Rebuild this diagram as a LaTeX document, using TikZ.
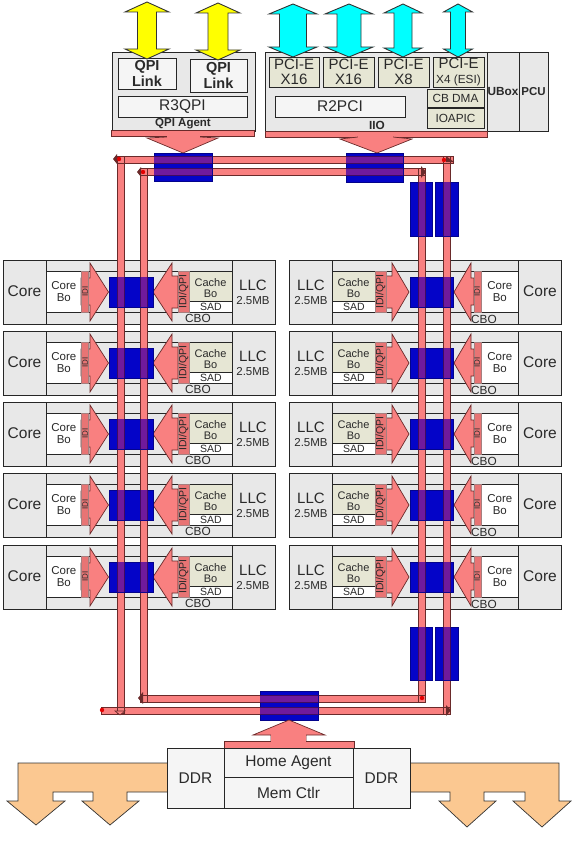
\documentclass[tikz,border=0pt]{standalone}
\usepackage{fontspec}
\setmainfont{Liberation Sans}
\definecolor{pinkf}{HTML}{F98080}
\definecolor{pinkd}{HTML}{E87474}
\definecolor{edge}{HTML}{6A2A2A}
\definecolor{blockg}{HTML}{E8E8E8}
\definecolor{beige}{HTML}{E6E6D4}
\definecolor{bluef}{HTML}{0404C8}
\definecolor{purplef}{HTML}{701A9C}
\definecolor{purpled}{HTML}{400A60}
\definecolor{orangef}{HTML}{FBC891}
\definecolor{yellowf}{HTML}{FFFF00}
\definecolor{cyanf}{HTML}{00FFFF}
\definecolor{txt}{HTML}{2A2A2A}
\newcommand{\fs}[2]{\fontsize{#1}{#2}\selectfont}
\newcommand{\bx}[7][]{\node[boxn,#1,minimum width=#4pt-#2pt,minimum height=#5pt-#3pt] (#6) at ({(#2+#4)/2},{(#3+#5)/2}) {#7};}
\newcommand{\ringpath}{
  (117,156) rectangle (453,163)
  (140,168) rectangle (425,175)
  (117,156) rectangle (124,713)
  (140,168) rectangle (147,702)
  (418,168) rectangle (425,702)
  (443,156) rectangle (450,714)
  (140,695) rectangle (425,702)
  (101,707) rectangle (450,714)
}
\newcommand{\dblarrow}[7]{% cx, top, bottom, head half, shaft half, head h, colour
  \draw[line width=.9pt,draw=black!80,fill=#7]
    (#1,#2) -- ({#1+#4},{#2+#6}) -- ({#1+#5},{#2+#6}) -- ({#1+#5},{#3-#6}) -- ({#1+#4},{#3-#6})
    -- (#1,#3) -- ({#1-#4},{#3-#6}) -- ({#1-#5},{#3-#6}) -- ({#1-#5},{#2+#6}) -- ({#1-#4},{#2+#6}) -- cycle;}
\tikzset{
  boxn/.style={draw=black!85,line width=.7pt,inner sep=0pt,align=center,text=txt,font=\fs{11.8}{13}},
  softbox/.style={fill=white!96!black},
  whitebox/.style={fill=white},
  greybox/.style={fill=blockg},
  beigebox/.style={fill=beige},
  bluebox/.style={fill=bluef,draw=bluef!70!black,line width=.4pt,inner sep=0pt},
  pinka/.style={fill=pinkf,draw=edge,line width=.7pt},
  stripn/.style={fill=pinkd,inner sep=0pt,draw=edge!60,line width=.3pt},
  lab/.style={text=txt,inner sep=0pt,align=center},
}
\begin{document}
\begin{tikzpicture}[x=1pt,y=-1pt]
\useasboundingbox (0,0) rectangle (579,864);
% --- top blocks
\bx[greybox]{112}{52}{255}{131}{qpiagent}{}
\bx[softbox,font=\fs{14.5}{16}\bfseries]{118}{58}{176}{89}{qpi1}{QPI\\Link}
\bx[softbox,font=\fs{14.5}{16}\bfseries]{190}{59}{247}{92}{qpi2}{QPI\\Link}
\bx[softbox,font=\fs{15.5}{17}]{118}{96}{247}{117}{r3qpi}{R3QPI}
\node[lab,font=\fs{11.5}{13}\bfseries] (qpilab) at (183,124) {QPI Agent};
\bx[greybox]{265}{52}{487}{131}{iio}{}
\bx[greybox,font=\fs{11.8}{13}\bfseries]{487}{52}{519}{131}{ubox}{UBox}
\bx[greybox,font=\fs{11.5}{13}\bfseries]{519}{52}{548}{131}{pcu}{PCU}
\bx[beigebox,font=\fs{15}{15.5}]{269}{57}{319}{87}{p1}{PCI-E\\X16}
\bx[beigebox,font=\fs{15}{15.5}]{323}{57}{374}{87}{p2}{PCI-E\\X16}
\bx[beigebox,font=\fs{15}{15.5}]{378}{57}{429}{87}{p3}{PCI-E\\X8}
\bx[beigebox,font=\fs{15}{15.5}]{433}{57}{484}{87}{p4}{PCI-E\\{\fs{11.8}{13}X4 (ESI)}}
\bx[beigebox,line width=.9pt]{427}{89}{484}{107}{cbdma}{CB DMA}
\bx[beigebox,line width=.9pt]{427}{108}{484}{128}{ioapic}{IOAPIC}
\bx[softbox,font=\fs{15.5}{17}]{275}{96}{405}{117}{r2pci}{R2PCI}
\node[lab,font=\fs{11.8}{13}\bfseries] (iiolab) at (377,125) {IIO};
% pink bars and arrows
\fill[pinkf,draw=edge,line width=.5pt] (111,130) rectangle (254,136);
\fill[pinkf,draw=edge,line width=.5pt] (265,131) rectangle (487,137);
\draw[pinka] (167,137) -- (147,138) -- (183,153) -- (218,138) -- (200,137);
\fill[pinkf] (167,135) rectangle (200,139);
\draw[pinka] (358,137) -- (340,139) -- (377,153) -- (412,139) -- (393,137);
\fill[pinkf] (358,135) rectangle (393,140);
% arrows out of the top
\dblarrow{147}{2}{59}{22}{9.5}{10}{yellowf}
\dblarrow{218}{3}{60}{22}{10}{10}{yellowf}
\dblarrow{293}{4}{57}{24}{13.5}{10}{cyanf}
\dblarrow{349}{4}{57}{24}{12}{10}{cyanf}
\dblarrow{403}{4}{57}{19}{9}{9}{cyanf}
\dblarrow{458}{4}{57}{14.5}{7.5}{8}{cyanf}
% --- rows
\foreach \i/\y in {1/260,2/331,3/402,4/473,5/545}{
  \begin{scope}[shift={(0,\y)}]
  % left half
  \node[boxn,greybox,minimum width=272pt,minimum height=64pt,anchor=north west] (lrow\i) at (3,0) {};
  \draw[line width=.7pt,black!85] (46,0) -- (46,64) (232,0) -- (232,64) (46,11) -- (232,11) (46,52) -- (232,52);
  \node[lab,font=\fs{15.5}{17}] (lcore\i) at (24.5,31) {Core};
  \node[boxn,whitebox,minimum width=35pt,minimum height=41pt,anchor=north west,font=\fs{11.5}{12}] (lbo\i) at (46,11) {Core\\Bo};
  \node[boxn,beigebox,minimum width=43pt,minimum height=30pt,anchor=north west] (lcache\i) at (189,11) {};
  \node[lab,font=\fs{11}{10.5}] (lcachet\i) at (210.5,28) {Cache\\Bo};
  \node[boxn,whitebox,minimum width=43pt,minimum height=11pt,anchor=north west,font=\fs{10.5}{11}] (lsad\i) at (189,41) {SAD};
  \node[lab,font=\fs{11.8}{13}] (lcbo\i) at (198,58.5) {CBO};
  \node[lab,font=\fs{15}{17}] (lllc\i) at (253,25) {LLC};
  \node[lab,font=\fs{11.5}{13}] (lmb\i) at (253,40.5) {2.5MB};
  \draw[pinka] (81,18) -- (90,18) -- (90,3) -- (108.5,32) -- (90,61) -- (90,45) -- (81,45) -- cycle;
  \draw[pinka] (178,16) -- (172,16) -- (172,3) -- (153,32) -- (172,61) -- (172,48) -- (178,48) -- cycle;
  \node[stripn,minimum width=7pt,minimum height=41pt] (lidi\i) at (84.5,31.5) {};
  \node[stripn,minimum width=11pt,minimum height=41pt] (lstrip\i) at (183.5,31.5) {};
  \node[lab,rotate=90,font=\fs{10.5}{11}] (lqt\i) at (183.5,31.5) {IDI/QPI};
  \node[lab,rotate=90,font=\fs{8}{9}] (lit\i) at (85,31.5) {IDI};
  % right half
  \node[boxn,greybox,minimum width=272pt,minimum height=64pt,anchor=north west] (rrow\i) at (289,0) {};
  \draw[line width=.7pt,black!85] (332,0) -- (332,64) (518,0) -- (518,64) (332,11) -- (518,11) (332,52) -- (518,52);
  \node[lab,font=\fs{15.5}{17}] (rcore\i) at (540,31) {Core};
  \node[boxn,whitebox,minimum width=37pt,minimum height=41pt,anchor=north west,font=\fs{11.5}{12}] (rbo\i) at (481,11) {Core\\Bo};
  \node[boxn,beigebox,minimum width=43pt,minimum height=30pt,anchor=north west] (rcache\i) at (332,11) {};
  \node[lab,font=\fs{11}{10.5}] (rcachet\i) at (353.5,28) {Cache\\Bo};
  \node[boxn,whitebox,minimum width=43pt,minimum height=11pt,anchor=north west,font=\fs{10.5}{11}] (rsad\i) at (332,41) {SAD};
  \node[lab,font=\fs{15}{17}] (rllc\i) at (311,25) {LLC};
  \node[lab,font=\fs{11.5}{13}] (rmb\i) at (311,40.5) {2.5MB};
  \draw[pinka] (386,16) -- (392,16) -- (392,3) -- (409,32) -- (392,61) -- (392,48) -- (386,48) -- cycle;
  \draw[pinka] (474,18) -- (471,18) -- (471,3) -- (454,32) -- (471,61) -- (471,45) -- (474,45) -- cycle;
  \node[stripn,minimum width=11pt,minimum height=41pt] (rstrip\i) at (380.5,31.5) {};
  \node[stripn,minimum width=7pt,minimum height=41pt] (ridi\i) at (477.5,31.5) {};
  \node[lab,rotate=90,font=\fs{10.5}{11}] (rqt\i) at (380.5,31.5) {IDI/QPI};
  \node[lab,rotate=90,font=\fs{8}{9}] (rit\i) at (477,31.5) {IDI};
  \node[lab,font=\fs{11.8}{13}] (rcbo\i) at (484,59) {CBO};
  \end{scope}
}
% --- ring
\fill[pinkf,draw=edge,line width=.7pt] \ringpath;
% --- blue stops
\foreach \rn/\x/\y/\w/\h in {a/154/153/58/28,b/346/153/57/29,c/410/182/22/54,d/435/182/23/54,e/260/691/58/29,f/410/627/22/53,g/435/627/23/53,l1/109/277/44/30,l2/109/348/44/30,l3/109/419/44/30,l4/109/490/44/30,l5/109/562/44/30,r1/410/277/43/30,r2/410/348/43/30,r3/410/419/43/30,r4/410/490/43/30,r5/410/562/43/30}{
  \node[bluebox,minimum width=\w pt,minimum height=\h pt,anchor=north west] (stop\rn) at (\x,\y) {};
}
% purple where the ring crosses the stops
\begin{scope}
\clip (154,153) rectangle (212,181) (346,153) rectangle (403,182)
 (410,182) rectangle (432,236) (435,182) rectangle (458,236)
 (260,691) rectangle (318,720) (410,627) rectangle (432,680) (435,627) rectangle (458,680)
 (109,277) rectangle (153,307) (109,348) rectangle (153,378) (109,419) rectangle (153,449)
 (109,490) rectangle (153,520) (109,562) rectangle (153,592)
 (410,277) rectangle (453,307) (410,348) rectangle (453,378) (410,419) rectangle (453,449)
 (410,490) rectangle (453,520) (410,562) rectangle (453,592);
\fill[purplef,draw=purpled,line width=.6pt] \ringpath;
\end{scope}
% ring end marks
\foreach \x/\y in {119/159,143/172,444/160,422/698,102/710}{\fill[red!90!black] (\x,\y) circle (2.2pt);}
\fill[edge] (117,154) -- (117,164) -- (113,159) -- cycle;
\fill[edge] (141,167) -- (141,177) -- (137,172) -- cycle;
\fill[edge] (421,166) -- (421,178) -- (426,172) -- cycle;
\fill[edge] (446,156) -- (454,162) -- (446,162) -- cycle;
\fill[edge] (143,692) -- (143,704) -- (138,698) -- cycle;
\fill[edge] (446,705) -- (446,716) -- (451,710) -- cycle;
\draw[edge,fill=pinkf,line width=.6pt] (115,711) -- (125,711) -- (120,715) -- cycle;
% --- bottom
\draw[pinka] (271,741) -- (271,735) -- (253,735) -- (289,720) -- (325,735) -- (306,735) -- (306,741);
\fill[pinkf,draw=edge,line width=.5pt] (224,741) rectangle (354,748);
\fill[pinkf] (271.4,733) rectangle (305.6,742);
\draw[line width=.7pt,black!80,fill=orangef] (167,763) -- (18,763) -- (18,801) -- (7,801) -- (36,825) -- (65,801) -- (53,801) -- (53,792) -- (93,792) -- (93,801) -- (82,801) -- (110,825) -- (139,801) -- (127,801) -- (127,792) -- (167,792);
\draw[line width=.7pt,black!80,fill=orangef] (410,763) -- (559,763) -- (559,801) -- (571,801) -- (542,827) -- (513,801) -- (525,801) -- (525,792) -- (484,792) -- (484,801) -- (496,801) -- (467,827) -- (439,801) -- (450,801) -- (450,792) -- (410,792);
\bx[softbox,font=\fs{15.5}{17}]{167}{748}{224}{808}{ddrl}{DDR}
\bx[softbox,font=\fs{15.5}{17}]{353}{748}{410}{808}{ddrr}{DDR}
\bx[softbox,font=\fs{15.5}{17}]{224}{748}{353}{777}{home}{Home Agent}
\bx[softbox,font=\fs{15.5}{17}]{224}{777}{353}{808}{memctl}{Mem Ctlr}
\end{tikzpicture}
\end{document}
